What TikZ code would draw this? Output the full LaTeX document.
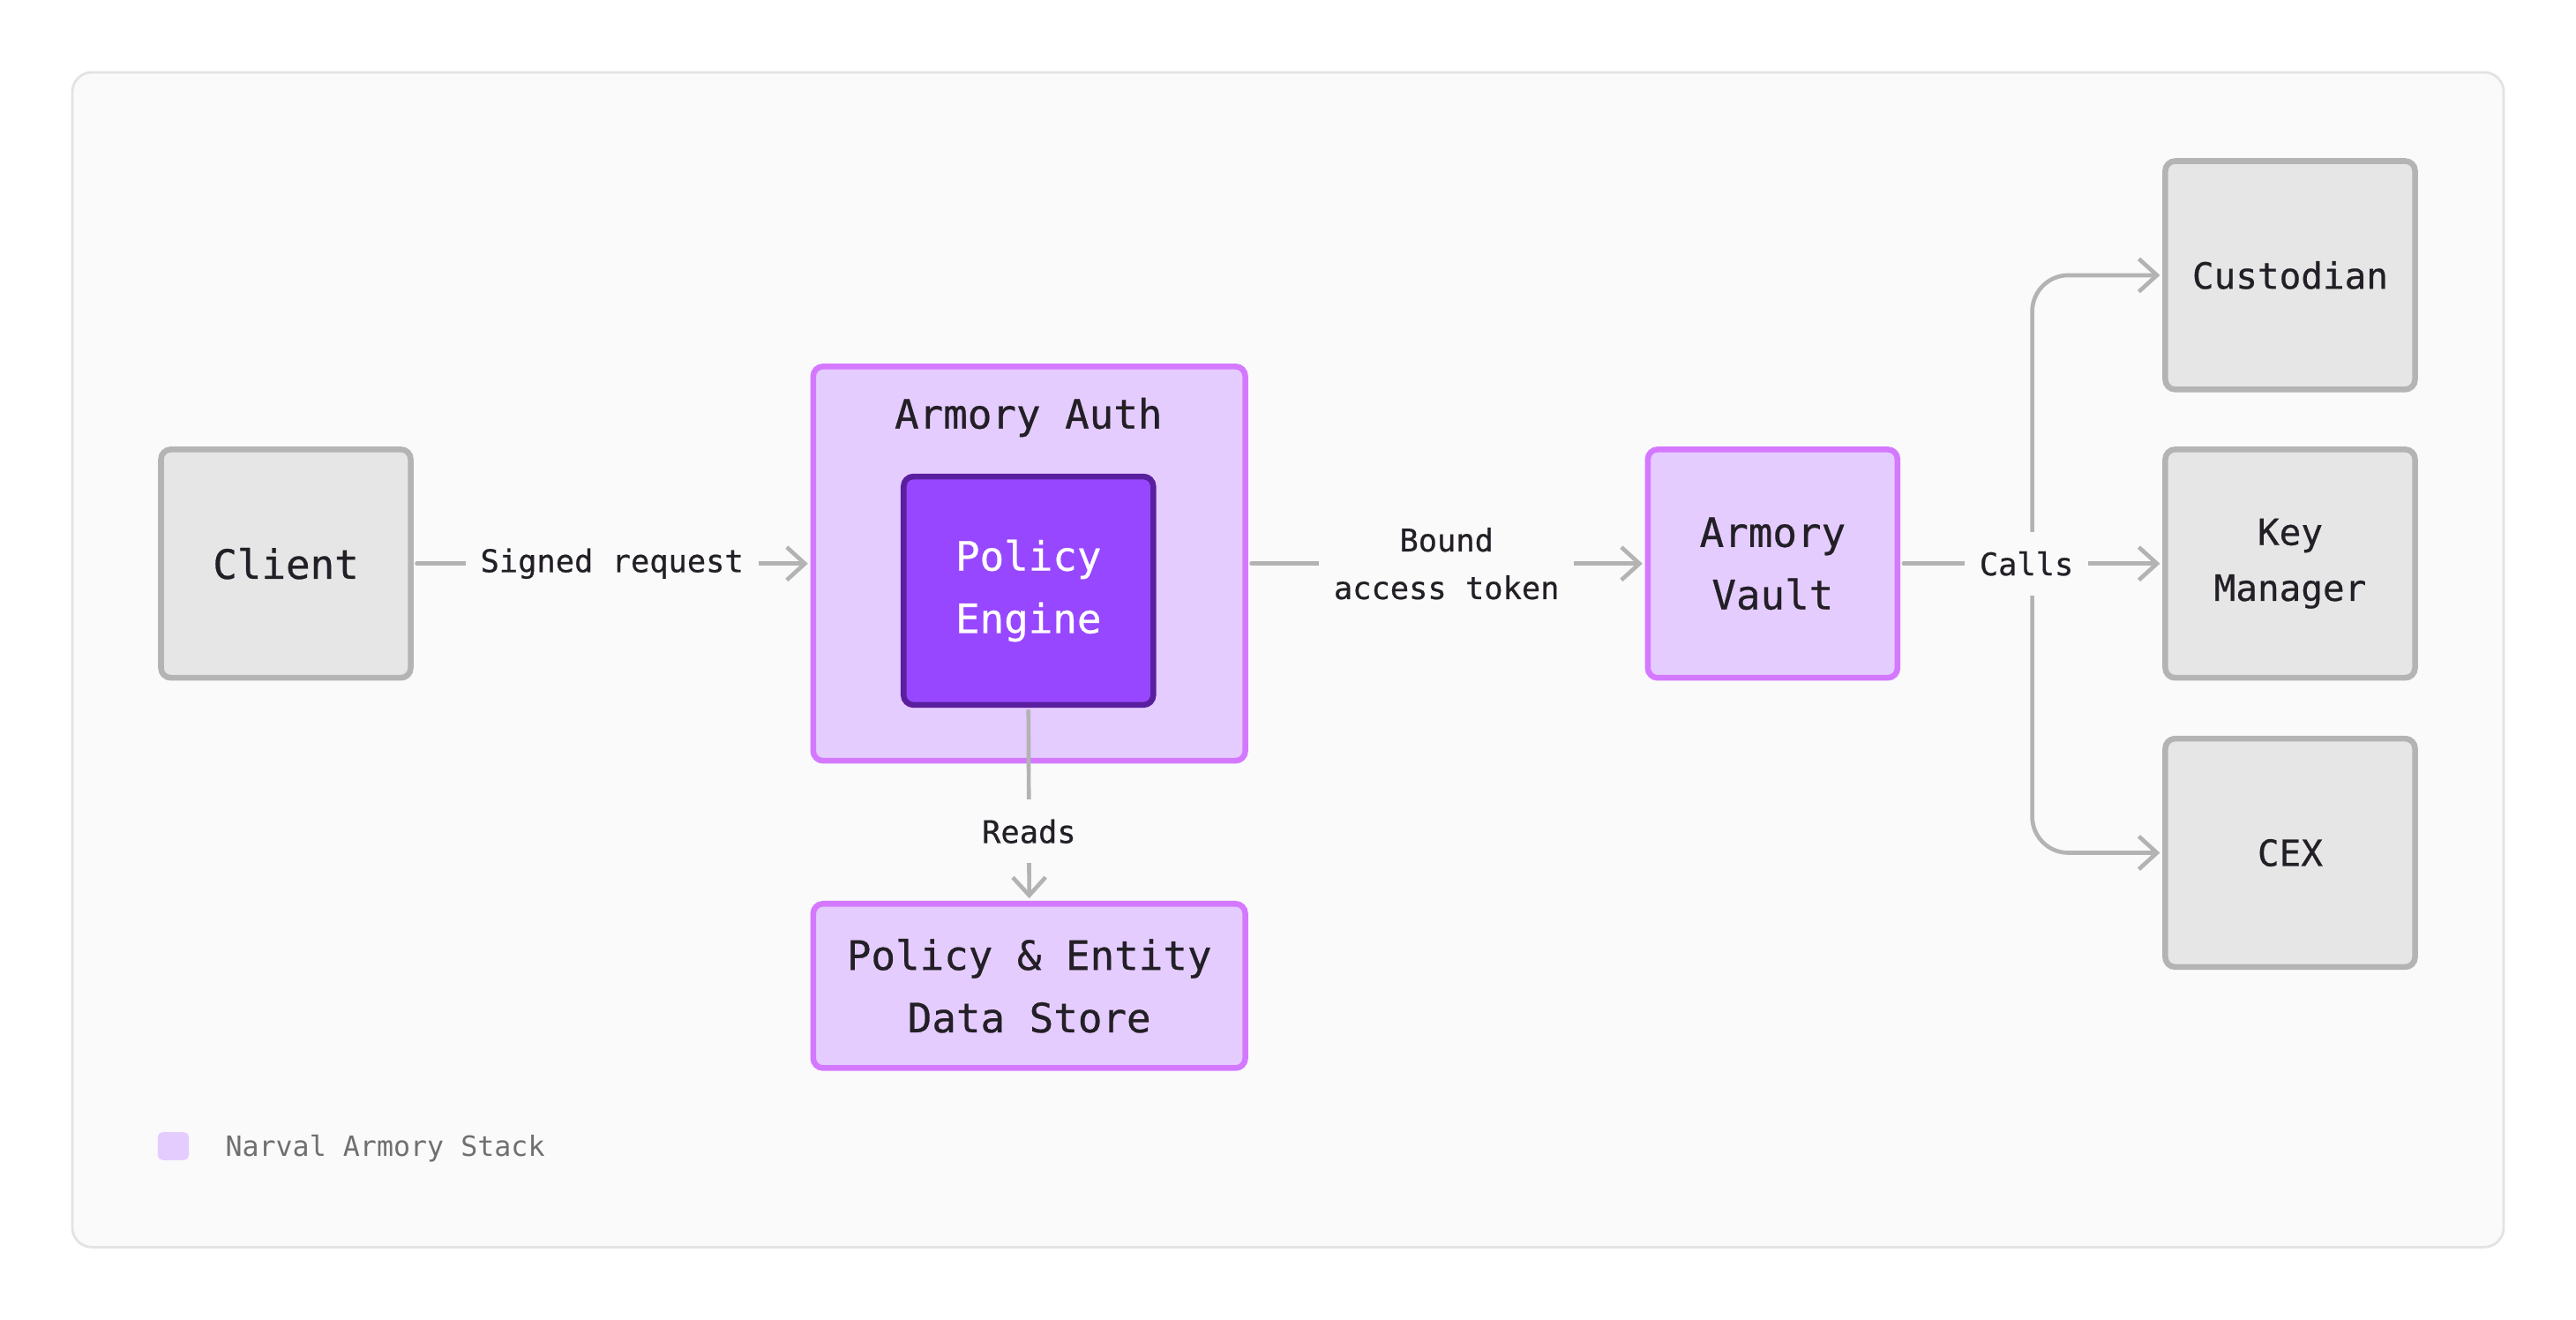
\documentclass[tikz,border=0pt]{standalone}
\usepackage{fontspec}
\newfontfamily\monofam{DejaVu Sans Mono}
\newfontfamily\monomed[FakeBold=0.6]{DejaVu Sans Mono}
\usetikzlibrary{arrows.meta}
\definecolor{bgwhite}{HTML}{FFFFFF}
\definecolor{panelfill}{HTML}{FAFAFA}
\definecolor{paneldraw}{HTML}{E3E3E3}
\definecolor{greyfill}{HTML}{E6E6E6}
\definecolor{greydraw}{HTML}{B4B4B4}
\definecolor{lavfill}{HTML}{E5CCFF}
\definecolor{lavdraw}{HTML}{D479FF}
\definecolor{pefill}{HTML}{9747FF}
\definecolor{pedraw}{HTML}{5A1F9E}
\definecolor{txtdark}{HTML}{231F26}
\definecolor{txtgrey}{HTML}{707070}
\definecolor{conncol}{HTML}{B3B3B3}
\tikzset{
  basebox/.style={rectangle, rounded corners=6pt, line width=3.5pt, align=center,
    font=\monomed\fontsize{24.6}{38}\selectfont, text=txtdark, inner sep=0pt},
  greybox/.style={basebox, fill=greyfill, draw=greydraw, minimum width=152pt, minimum height=139pt},
  lavbox/.style={basebox, fill=lavfill, draw=lavdraw},
  pebox/.style={basebox, fill=pefill, draw=pedraw, text=white, minimum width=152pt, minimum height=139pt},
  extbox/.style={greybox, font=\monomed\fontsize{22}{34}\selectfont},
  conn/.style={draw=conncol, line width=2.5pt, line cap=round,
    -{Straight Barb[length=11pt,width=20pt,line width=2.5pt]}, shorten >=1.5pt, shorten <=2pt},
  lbl/.style={fill=panelfill, text=txtdark, font=\monomed\fontsize{19}{29}\selectfont,
    inner xsep=9pt, inner ysep=12pt, align=center},
}
\begin{document}
\begin{tikzpicture}[x=1pt,y=-1pt]
\useasboundingbox (0,0) rectangle (1568,803.3);
\fill[bgwhite] (0,0) rectangle (1568,803.3);
\draw[fill=panelfill, draw=paneldraw, line width=1.5pt, rounded corners=12pt] (44,44) rectangle (1524,759);

% nodes
\node[greybox] (client) at (174,343) {Client};
\node[lavbox, minimum width=263pt, minimum height=240pt] (auth) at (626.5,343) {};
\node[text=txtdark, font=\monomed\fontsize{24.6}{38}\selectfont] (authtitle) at (626,254) {Armory Auth};
\node[pebox] (pe) at (626,359.5) {Policy\\Engine};
\node[lavbox, minimum width=263pt, minimum height=100pt] (store) at (626.5,600) {Policy \& Entity\\Data Store};
\node[lavbox, minimum width=152pt, minimum height=139pt] (vault) at (1079,343) {Armory\\Vault};
\node[extbox] (cust) at (1394,167.5) {Custodian};
\node[extbox] (km) at (1394,343) {Key\\Manager};
\node[extbox] (cex) at (1394,519) {CEX};

% connectors
\coordinate (split) at (1237,343);
\draw[conn] (client) -- node[lbl] (lsigned) {Signed request} (auth);
\draw[conn] (auth) -- node[lbl, pos=0.5] (lbound) {Bound\\access token} (vault);
\draw[conn, rounded corners=22pt] (split) |- (cust.west);
\draw[conn, rounded corners=22pt] (split) |- (cex.west);
\draw[conn] (vault) -- (km);
\node[lbl] (lcalls) at (1233.5,343) {Calls};
\draw[conn] (pe.south) -- node[lbl, pos=0.64] (lreads) {Reads} (store.north);

% legend
\fill[lavfill, rounded corners=3pt] (96,689) rectangle (115,706);
\node[anchor=west, inner sep=0pt, text=txtgrey, font=\monofam\fontsize{17}{20}\selectfont] (legend) at (137,699) {Narval Armory Stack};
\end{tikzpicture}
\end{document}
